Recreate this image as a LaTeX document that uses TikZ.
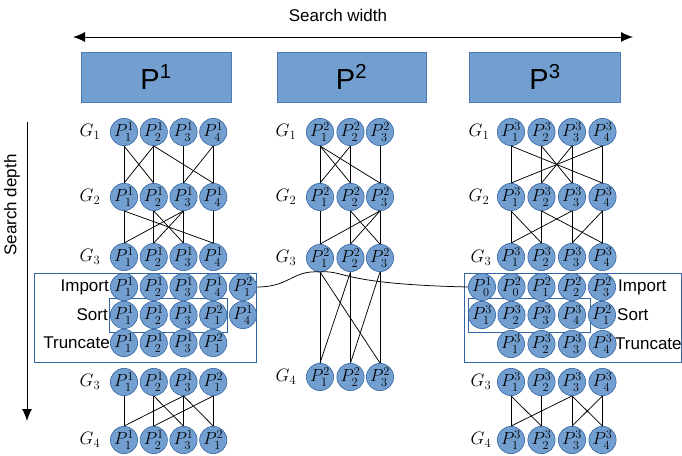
\RequirePackage{fix-cm}
\documentclass[tikz,border=0pt]{standalone}
\usepackage{fontspec}
\setmainfont{Liberation Sans}
\usetikzlibrary{arrows.meta}
\definecolor{fillblue}{HTML}{729FCF}
\definecolor{lineblue}{HTML}{3465A4}
\tikzset{
  pn/.style={circle, fill=fillblue, draw=lineblue, line width=0.6pt, minimum size=26pt, inner sep=0pt, font=\fontsize{17.5}{17.5}\selectfont},
  edge/.style={draw=black, line width=0.75pt},
  glab/.style={font=\fontsize{18}{18}\selectfont, inner sep=0pt},
  lab/.style={font=\fontsize{17}{17}\selectfont, inner sep=0pt},
  frame/.style={draw=lineblue, line width=1pt, inner sep=0pt},
  hbox/.style={fill=fillblue, draw=lineblue!60!fillblue, line width=0.6pt, inner sep=0pt, minimum height=50pt, font=\fontsize{29}{29}\selectfont},
  tip/.style={-{Latex[length=12pt,width=10pt]}, line width=1pt}
}
\begin{document}
\begin{tikzpicture}[x=1pt,y=-1pt]
\useasboundingbox (0,0) rectangle (682,455);

% top: search width
\node[lab] (sw) at (338,15) {Search width};
\coordinate (wl) at (73,37);
\coordinate (wr) at (633,37);
\draw[{Latex[length=12pt,width=10pt]}-{Latex[length=12pt,width=10pt]}, line width=1pt] (wl) -- (wr);

% search depth
\node[lab, rotate=90] (sd) at (12,205) {Search depth};
\coordinate (dt) at (27,122);
\coordinate (db) at (27,421);
\draw[tip] (dt) -- (db);

% header boxes
\node[hbox, minimum width=150pt] (H1) at (156,77) {P\textsuperscript{1}};
\node[hbox, minimum width=149pt] (H2) at (351.5,77) {P\textsuperscript{2}};
\node[hbox, minimum width=151pt] (H3) at (545,77) {P\textsuperscript{3}};

% frames
\node[frame, minimum width=222pt, minimum height=89pt] (LF) at (145,317.5) {};
\node[frame, minimum width=118pt, minimum height=34pt] (LSF) at (168,315) {};
\node[frame, minimum width=217pt, minimum height=89pt] (RF) at (572.5,317.5) {};
\node[frame, minimum width=122pt, minimum height=34pt] (RSF) at (529,315) {};

% ---------------- left column ----------------
\node[glab] (gl1) at (90,132) {$G_1$};
\node[glab] (gl2) at (90,197) {$G_2$};
\node[glab] (gl3) at (90,257) {$G_3$};
\node[glab] (gl4) at (90,382) {$G_3$};
\node[glab] (gl5) at (90,440) {$G_4$};
\foreach \i/\x in {1/124,2/153.75,3/183.5,4/213.25}{
  \node[pn] (LA\i) at (\x,132) {$P^1_{\i}$};
  \node[pn] (LB\i) at (\x,197) {$P^1_{\i}$};
  \node[pn] (LC\i) at (\x,257) {$P^1_{\i}$};
}
\foreach \i/\x/\s/\u in {1/124/1/1,2/153.75/1/2,3/183.5/1/3,4/213.25/1/4,5/243/2/1}
  \node[pn] (LI\i) at (\x,287) {$P^{\s}_{\u}$};
\foreach \i/\x/\s/\u in {1/124/1/1,2/153.75/1/2,3/183.5/1/3,4/213.25/2/1,5/243/1/4}
  \node[pn] (LS\i) at (\x,315) {$P^{\s}_{\u}$};
\foreach \i/\x/\s/\u in {1/124/1/1,2/153.75/1/2,3/183.5/1/3,4/213.25/2/1}{
  \node[pn] (LT\i) at (\x,343) {$P^{\s}_{\u}$};
  \node[pn] (LD\i) at (\x,382) {$P^{\s}_{\u}$};
  \node[pn] (LE\i) at (\x,440) {$P^{\s}_{\u}$};
}
\node[lab, anchor=east] (limp) at (109,287) {Import};
\node[lab, anchor=east] (lsort) at (108,315) {Sort};
\node[lab, anchor=east] (ltrunc) at (110,343) {Truncate};

\foreach \a/\b in {1/1,1/2,2/1,2/2,2/4,3/3,4/3,4/4}
  \draw[edge] (LA\a.south) -- (LB\b.north);
\foreach \a/\b in {1/1,1/4,2/2,2/3,3/1,3/2,3/3,4/4}
  \draw[edge] (LB\a.south) -- (LC\b.north);
\foreach \a/\b in {1/1,2/2,2/3,3/1,3/3,3/4,4/2,4/4}
  \draw[edge] (LD\a.south) -- (LE\b.north);

% ---------------- middle column ----------------
\node[glab] (gm1) at (286,132) {$G_1$};
\node[glab] (gm2) at (286,197) {$G_2$};
\node[glab] (gm3) at (286,258) {$G_3$};
\node[glab] (gm4) at (286,377) {$G_4$};
\foreach \i/\x in {1/320,2/350.5,3/380}{
  \node[pn] (MA\i) at (\x,132) {$P^2_{\i}$};
  \node[pn] (MB\i) at (\x,197) {$P^2_{\i}$};
  \node[pn] (MC\i) at (\x,258) {$P^2_{\i}$};
  \node[pn] (MD\i) at (\x,377) {$P^2_{\i}$};
}
\foreach \a/\b in {1/1,1/2,1/3,2/1,2/2,3/3}
  \draw[edge] (MA\a.south) -- (MB\b.north);
\foreach \a/\b in {1/1,2/2,2/3,3/1,3/2,3/3}
  \draw[edge] (MB\a.south) -- (MC\b.north);
\foreach \a/\b in {1/1,1/3,2/1,2/2,3/2,3/3}
  \draw[edge] (MC\a.south) -- (MD\b.north);

% ---------------- right column ----------------
\node[glab] (gr1) at (479,132) {$G_1$};
\node[glab] (gr2) at (479,197) {$G_2$};
\node[glab] (gr3) at (481,258) {$G_3$};
\node[glab] (gr4) at (481,382) {$G_3$};
\node[glab] (gr5) at (481,440) {$G_4$};
\foreach \i/\x in {1/511,2/541.5,3/572,4/602.5}{
  \node[pn] (RA\i) at (\x,132) {$P^3_{\i}$};
  \node[pn] (RB\i) at (\x,197) {$P^3_{\i}$};
  \node[pn] (RC\i) at (\x,257) {$P^3_{\i}$};
  \node[pn] (RT\i) at (\x,344) {$P^3_{\i}$};
  \node[pn] (RD\i) at (\x,382) {$P^3_{\i}$};
  \node[pn] (RE\i) at (\x,440) {$P^3_{\i}$};
}
\foreach \i/\x/\s/\u in {1/482/1/0,2/511.5/2/0,3/541.5/2/1,4/572/2/2,5/602/2/3}
  \node[pn] (RI\i) at (\x,287) {$P^{\s}_{\u}$};
\foreach \i/\x/\s/\u in {1/482/3/1,2/511.5/3/2,3/541.5/3/3,4/572/3/4,5/602/2/1}
  \node[pn] (RS\i) at (\x,315) {$P^{\s}_{\u}$};
\node[lab, anchor=west] (rimp) at (618,287) {Import};
\node[lab, anchor=west] (rsort) at (617,315) {Sort};
\node[lab, anchor=west] (rtrunc) at (615,344) {Truncate};

\foreach \a/\b in {1/1,1/4,2/2,2/3,3/2,3/3,4/1,4/4}
  \draw[edge] (RA\a.south) -- (RB\b.north);
\foreach \a/\b in {1/1,1/2,2/2,2/4,3/1,3/3,4/3,4/4}
  \draw[edge] (RB\a.south) -- (RC\b.north);
\foreach \a/\b in {1/1,1/2,2/2,3/1,3/3,3/4,4/3,4/4}
  \draw[edge] (RD\a.south) -- (RE\b.north);

% import connector
\draw[edge] (LI5.east) .. controls (290,287) and (292,270) .. (MC1.south)
  .. controls (346,270) and (338,284) .. (RI1.west);
\end{tikzpicture}
\end{document}
